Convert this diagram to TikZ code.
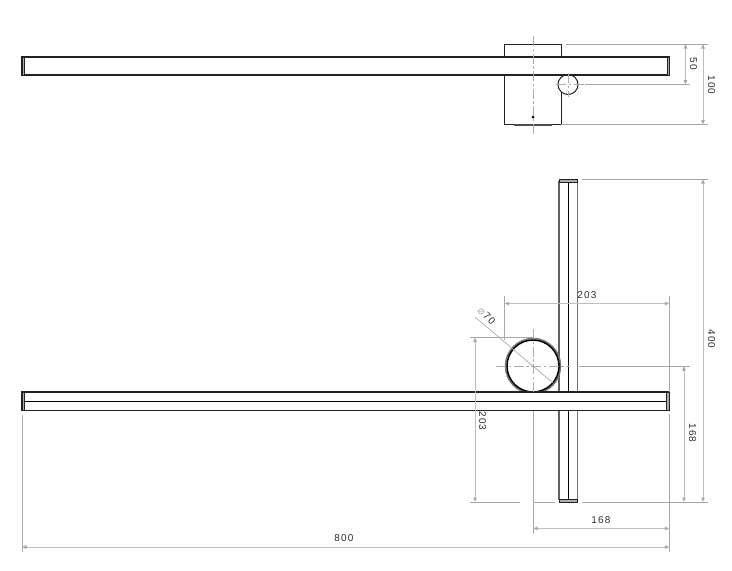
\documentclass[tikz,border=0pt]{standalone}
\usepackage{fontspec}
\setmainfont[LetterSpace=12]{Liberation Sans}
\newfontfamily\symfont{DejaVu Sans}
\usetikzlibrary{arrows.meta}
\definecolor{dimc}{gray}{0.66}
\definecolor{dimd}{gray}{0.74}
\definecolor{capc}{gray}{0.68}
\definecolor{inkc}{gray}{0.13}
\tikzset{
  x=1pt,y=-1pt,
  outline/.style={draw=inkc,line width=1.15pt},
  midline/.style={draw=black,line width=1pt},
  capfill/.style={draw=inkc,line width=0.6pt,fill=capc},
  ext/.style={draw=dimc,line width=0.65pt},
  dimen/.style={draw=dimd,line width=1pt,{Triangle[length=4.5pt,width=3.5pt,fill=dimc,color=dimc]}-{Triangle[length=4.5pt,width=3.5pt,fill=dimc,color=dimc]}},
  centre/.style={draw=black!32,line width=0.6pt,dash pattern=on 10pt off 2.5pt on 2.5pt off 2.5pt},
  dimtext/.style={font=\fontsize{10}{12}\selectfont,text=black!82,inner sep=0pt},
  dimv/.style={dimtext,rotate=-90},
}
\begin{document}
\begin{tikzpicture}
\useasboundingbox (0,0) rectangle (732,571);
\fill[white] (0,0) rectangle (732,571);

% ---------- top view
\draw[outline,line width=0.9pt] (561.5,57) -- (561.5,44) -- (504.5,44) -- (504.5,124) -- (561.5,124) -- (561.5,92);
\draw[draw=black!70,line width=1.4pt] (514,125) -- (552,125);
\fill[black] (533,117) circle (1.5);
\draw[outline,line width=1pt,fill=white] (568,84.5) circle (10);
\draw[outline,fill=white] (22,57) rectangle (669,75);
\draw[capfill] (22,57) rectangle (24,75);
\draw[capfill] (667,57) rectangle (669.3,75);
\draw[centre] (533,36) -- (533,136);
\draw[centre] (568,73) -- (568,97);
\draw[centre] (556,84.5) -- (585,84.5);

% top view dimensions
\coordinate (t50a) at (685.5,44);
\coordinate (t50b) at (685.5,84.5);
\coordinate (t100a) at (703,44);
\coordinate (t100b) at (703,124.5);
\draw[ext] (566,44) -- (708,44);
\draw[ext] (585,84.5) -- (690,84.5);
\draw[ext] (561,124.5) -- (708,124.5);
\draw[dimen] (t50a) -- (t50b);
\draw[dimen] (t100a) -- (t100b);
\node[dimv] (l50) at (693.5,64) {50};
\node[dimv] (l100) at (711.5,85) {100};

% ---------- front view, vertical bar
\draw[draw=black!62,line width=1.2pt] (559,181) -- (559,392) (559,411) -- (559,500);
\draw[draw=black!55,line width=0.9pt] (577.2,181) -- (577.2,392) (577.2,411) -- (577.2,500);
\draw[midline] (568.2,181) -- (568.2,392) (568.2,411) -- (568.2,500);
\draw[capfill] (559,179) rectangle (577.2,182);
\draw[capfill] (559,499.5) rectangle (577.2,502);

% ring
\draw[draw=black!55,line width=1.5pt] (533,366) circle (27.5);
\draw[draw=black,line width=1.5pt,fill=white] (533,366) circle (26);

% horizontal bar
\draw[outline,fill=white] (22,392) rectangle (669,410.5);
\draw[midline] (22,401.5) -- (669,401.5);
\draw[capfill] (22,392) rectangle (24,410.5);
\draw[capfill] (666.5,392) rectangle (669.3,410.5);

% centre lines
\draw[centre] (533,329) -- (533,392);
\draw[centre] (496,366) -- (570,366);

% leader of the diameter
\draw[ext] (475,317) -- (553,383);
\node[dimtext,rotate=-45] (l70) at (486.5,316) {\textcolor{black!55}{\symfont\fontsize{7.5}{8}\selectfont ∅}\,70};

% front view dimensions: extension lines
\draw[ext] (504.7,296) -- (504.7,340);
\draw[ext] (669.3,296) -- (669.3,392);
\draw[ext] (669.3,414) -- (669.3,552);
\draw[ext] (533,411) -- (533,534);
\draw[ext] (22,415) -- (22,552);
\draw[ext] (470,337.5) -- (533,337.5);
\draw[ext] (470,502) -- (520,502);
\draw[ext] (533,502) -- (555,502);
\draw[ext] (582,502) -- (708,502);
\draw[ext] (579,366) -- (690,366);
\draw[ext] (582,179) -- (708,179);

% front view dimensions
\coordinate (d203ha) at (504.7,303.5);
\coordinate (d203hb) at (669.3,303.5);
\coordinate (d203va) at (475,337.5);
\coordinate (d203vb) at (475,502);
\coordinate (d168va) at (684,366);
\coordinate (d168vb) at (684,502);
\coordinate (d400a) at (703,179);
\coordinate (d400b) at (703,502);
\coordinate (d168ha) at (533,528.5);
\coordinate (d168hb) at (669.3,528.5);
\coordinate (d800a) at (22,547);
\coordinate (d800b) at (669.3,547);
\draw[dimen] (d203ha) -- (d203hb);
\draw[dimen] (d203va) -- (d203vb);
\draw[dimen] (d168va) -- (d168vb);
\draw[dimen] (d400a) -- (d400b);
\draw[dimen] (d168ha) -- (d168hb);
\draw[dimen] (d800a) -- (d800b);

\node[dimtext] (l203h) at (587,295.5) {203};
\node[dimv] (l203v) at (482.5,421) {203};
\node[dimv] (l168v) at (692.5,433) {168};
\node[dimv] (l400) at (711.5,339) {400};
\node[dimtext] (l168h) at (601,520) {168};
\node[dimtext] (l800) at (344,538) {800};
\end{tikzpicture}
\end{document}
